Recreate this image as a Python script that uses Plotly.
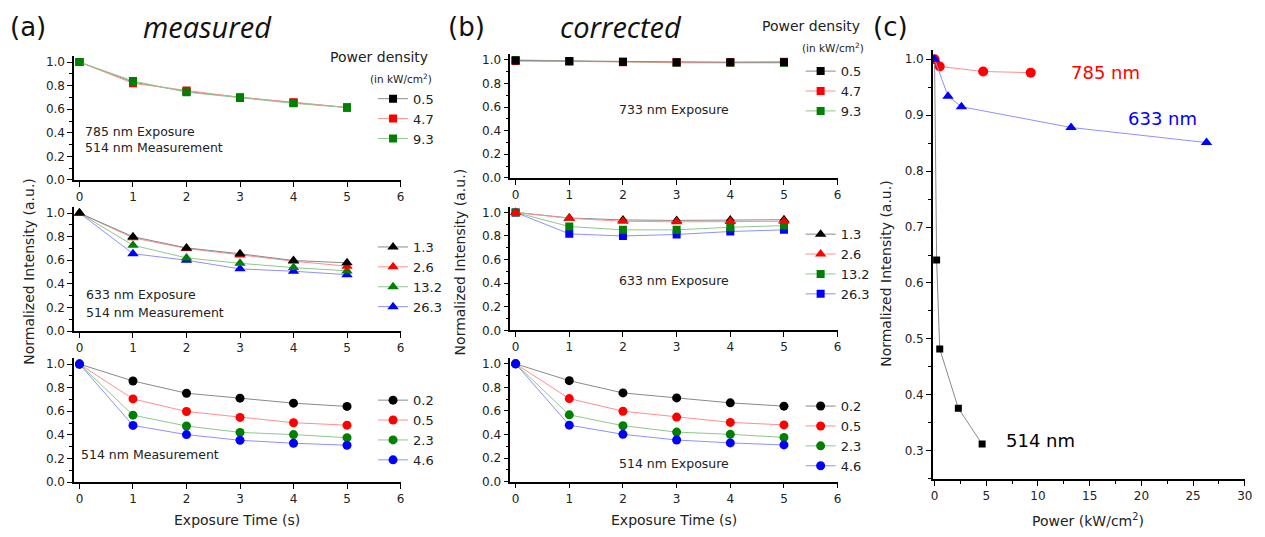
import plotly.graph_objects as go

W, H = 1265, 537

# ---------------- data ----------------
t = [0, 1, 2, 3, 4, 5]

# (a) measured, 785 nm exposure / 514 nm measurement
a1_labels = ["0.5", "4.7", "9.3"]
a1_k = [1.0, 0.83, 0.75, 0.70, 0.655, 0.615]
a1_r = [1.0, 0.82, 0.76, 0.70, 0.66, 0.615]
a1_g = [1.0, 0.84, 0.745, 0.695, 0.65, 0.615]

# (a) measured, 633 nm exposure / 514 nm measurement
a2_labels = ["1.3", "2.6", "13.2", "26.3"]
a2_k = [1.0, 0.80, 0.705, 0.655, 0.598, 0.578]
a2_r = [1.0, 0.79, 0.70, 0.644, 0.592, 0.55]
a2_g = [1.0, 0.728, 0.62, 0.574, 0.538, 0.51]
a2_b = [1.0, 0.656, 0.60, 0.527, 0.507, 0.478]

# 514 nm exposure (same in (a) and (b))
c514_labels = ["0.2", "0.5", "2.3", "4.6"]
c514_k = [1.0, 0.857, 0.753, 0.711, 0.669, 0.641]
c514_r = [1.0, 0.705, 0.598, 0.548, 0.503, 0.482]
c514_g = [1.0, 0.567, 0.475, 0.421, 0.402, 0.376]
c514_b = [1.0, 0.48, 0.402, 0.354, 0.329, 0.312]

# (b) corrected, 733 nm exposure
b1_labels = ["0.5", "4.7", "9.3"]
b1_k = [0.995, 0.99, 0.985, 0.98, 0.98, 0.98]
b1_r = [0.99, 0.985, 0.98, 0.98, 0.98, 0.985]
b1_g = [1.0, 0.99, 0.985, 0.975, 0.975, 0.975]

# (b) corrected, 633 nm exposure
b2_labels = ["1.3", "2.6", "13.2", "26.3"]
b2_k = [1.0, 0.953, 0.936, 0.932, 0.935, 0.938]
b2_r = [1.0, 0.95, 0.925, 0.92, 0.922, 0.925]
b2_g = [1.0, 0.88, 0.852, 0.852, 0.874, 0.888]
b2_b = [1.0, 0.818, 0.80, 0.813, 0.838, 0.852]

# (c) normalized intensity vs power
c_514_x = [0, 0.2, 0.5, 2.3, 4.6]
c_514_y = [1.0, 0.641, 0.482, 0.376, 0.312]
c_785_x = [0, 0.5, 4.7, 9.3]
c_785_y = [1.0, 0.987, 0.978, 0.976]
c_633_x = [0, 1.3, 2.6, 13.2, 26.3]
c_633_y = [1.0, 0.934, 0.915, 0.878, 0.851]

# ---------------- style ----------------
MK = {"k": "#000000", "r": "#ff0000", "g": "#008000", "b": "#0000ff"}
LN = {"k": "#8a8a8a", "r": "#ff8f8f", "g": "#8fc88f", "b": "#8f8fff"}
FONT = "DejaVu Sans, Arial, sans-serif"


def px(x):
    return x / W


def py(y):
    return 1 - y / H


fig = go.Figure()


def add(xs, ys, col, sym, size, name, xa, ya, legend, rank=None):
    fig.add_trace(go.Scatter(
        x=xs, y=ys, mode="lines+markers", name=name,
        line=dict(color=LN[col], width=1),
        marker=dict(color=MK[col], symbol=sym, size=size, line=dict(width=0)),
        xaxis=xa, yaxis=ya, legend=legend,
        legendrank=rank if rank is not None else 1000,
        showlegend=legend is not None,
        hoverinfo="skip",
    ))


# (a) top
add(t, a1_k, "k", "square", 8, a1_labels[0], "x", "y", "legend", 1)
add(t, a1_r, "r", "square", 8, a1_labels[1], "x", "y", "legend", 2)
add(t, a1_g, "g", "square", 8, a1_labels[2], "x", "y", "legend", 3)
# (a) middle
add(t, a2_b, "b", "triangle-up", 10, a2_labels[3], "x2", "y2", "legend2", 4)
add(t, a2_g, "g", "triangle-up", 10, a2_labels[2], "x2", "y2", "legend2", 3)
add(t, a2_r, "r", "triangle-up", 10, a2_labels[1], "x2", "y2", "legend2", 2)
add(t, a2_k, "k", "triangle-up", 10, a2_labels[0], "x2", "y2", "legend2", 1)
# (a) bottom
add(t, c514_k, "k", "circle", 9, c514_labels[0], "x3", "y3", "legend3", 1)
add(t, c514_r, "r", "circle", 9, c514_labels[1], "x3", "y3", "legend3", 2)
add(t, c514_g, "g", "circle", 9, c514_labels[2], "x3", "y3", "legend3", 3)
add(t, c514_b, "b", "circle", 9, c514_labels[3], "x3", "y3", "legend3", 4)
# (b) top
add(t, b1_g, "g", "square", 8, b1_labels[2], "x4", "y4", "legend4", 3)
add(t, b1_r, "r", "square", 8, b1_labels[1], "x4", "y4", "legend4", 2)
add(t, b1_k, "k", "square", 8, b1_labels[0], "x4", "y4", "legend4", 1)
# (b) middle
add(t, b2_b, "b", "square", 8, b2_labels[3], "x5", "y5", "legend5", 4)
add(t, b2_g, "g", "square", 8, b2_labels[2], "x5", "y5", "legend5", 3)
add(t, b2_k, "k", "triangle-up", 10, b2_labels[0], "x5", "y5", "legend5", 1)
add(t, b2_r, "r", "triangle-up", 10, b2_labels[1], "x5", "y5", "legend5", 2)
# (b) bottom
add(t, c514_k, "k", "circle", 9, c514_labels[0], "x6", "y6", "legend6", 1)
add(t, c514_r, "r", "circle", 9, c514_labels[1], "x6", "y6", "legend6", 2)
add(t, c514_g, "g", "circle", 9, c514_labels[2], "x6", "y6", "legend6", 3)
add(t, c514_b, "b", "circle", 9, c514_labels[3], "x6", "y6", "legend6", 4)
# (c)
add(c_514_x, c_514_y, "k", "square", 7, "514 nm", "x7", "y7", None)
add(c_785_x, c_785_y, "r", "circle", 10, "785 nm", "x7", "y7", None)
add(c_633_x, c_633_y, "b", "triangle-up", 10, "633 nm", "x7", "y7", None)

# ---------------- axes ----------------
axis_common = dict(
    showline=True, linecolor="#000", linewidth=1.5, mirror=False,
    showgrid=False, zeroline=False, ticks="outside", ticklen=5, tickwidth=1.2,
    tickcolor="#000", tickfont=dict(family=FONT, size=12, color="#222"),
)

a_x = (72.7, 401.7)
b_x = (512.3, 842.3)
a_rows = [181.7, 335.0, 488.3]
b_rows = [179.5, 334.3, 488.0]
yscale = 119.7  # px per 1.0

layout = {}
for i in range(6):
    xd = a_x if i < 3 else b_x
    y0 = (a_rows if i < 3 else b_rows)[i % 3]
    y1 = y0 - 1.05 * yscale
    n = i + 1
    xa = "xaxis" if n == 1 else f"xaxis{n}"
    ya = "yaxis" if n == 1 else f"yaxis{n}"
    layout[xa] = dict(axis_common, domain=[px(xd[0]), px(xd[1])],
                      range=[-0.1, 6], tickvals=[0, 1, 2, 3, 4, 5, 6],
                      anchor="y" if n == 1 else f"y{n}")
    layout[ya] = dict(axis_common, domain=[py(y0), py(y1)],
                      range=[0, 1.05], tickvals=[0, 0.2, 0.4, 0.6, 0.8, 1.0],
                      tickformat=".1f",
                      minor=dict(ticks="outside", ticklen=3, tickcolor="#000",
                                 dtick=0.1, tick0=0),
                      anchor="x" if n == 1 else f"x{n}")

layout["xaxis7"] = dict(axis_common, domain=[px(938.3), px(1252.7)],
                        range=[-0.163, 30], tickvals=[0, 5, 10, 15, 20, 25, 30],
                        minor=dict(ticks="outside", ticklen=3, tickcolor="#000",
                                   dtick=2.5, tick0=0),
                        anchor="y7")
layout["yaxis7"] = dict(axis_common, domain=[py(485), py(50)],
                        range=[0.25, 1.016],
                        tickvals=[0.3, 0.4, 0.5, 0.6, 0.7, 0.8, 0.9, 1.0],
                        tickformat=".1f",
                        minor=dict(ticks="outside", ticklen=3, tickcolor="#000",
                                   dtick=0.05, tick0=0),
                        anchor="x7")

# ---------------- legends ----------------
def leg(x, ytop):
    return dict(x=px(x), y=py(ytop), xanchor="left", yanchor="top",
                bgcolor="rgba(0,0,0,0)", borderwidth=0,
                font=dict(family=FONT, size=13, color="#222"),
                itemwidth=30, tracegroupgap=0)


layout["legend"] = leg(374, 84)
layout["legend2"] = leg(374, 234.5)
layout["legend3"] = leg(374, 390)
layout["legend4"] = leg(805, 56)
layout["legend5"] = leg(805, 221.5)
layout["legend6"] = leg(805, 396)

# ---------------- annotations ----------------
ann = []


def text(x, y, s, size=12.5, color="#222", xanchor="left", angle=0,
         family=FONT, style="normal"):
    ann.append(dict(x=px(x), y=py(y), xref="paper", yref="paper", text=s,
                    showarrow=False, xanchor=xanchor, yanchor="middle",
                    textangle=angle,
                    font=dict(family=family, size=size, color=color,
                              style=style)))


# panel labels / titles
text(6, 26, "(a)", size=26, color="#111")
text(207, 26, "measured", size=29, color="#111", xanchor="center",
     family="Open Sans, sans-serif", style="italic")
text(448, 26, "(b)", size=26, color="#111")
text(624, 26, "corrected", size=29, color="#111", xanchor="center",
     family="Open Sans, sans-serif", style="italic")
text(876, 26, "(c)", size=26, color="#111")

# power density headers
text(329, 57, "Power density", size=14)
text(369, 79, "(in kW/cm<sup>2</sup>)", size=10.5)
text(764, 25, "Power density", size=14)
text(804, 47, "(in kW/cm<sup>2</sup>)", size=10.5)

# in-plot labels
text(82, 132, "785 nm Exposure")
text(82, 149, "514 nm Measurement")
text(83, 298, "633 nm Exposure")
text(83, 316, "514 nm Measurement")
text(78, 460, "514 nm Measurement")
text(677, 110, "733 nm Exposure", xanchor="center")
text(677, 284, "633 nm Exposure", xanchor="center")
text(677, 469, "514 nm Exposure", xanchor="center")

text(1112, 73, "785 nm", size=18, color="#ff0000", xanchor="center")
text(1170, 119, "633 nm", size=18, color="#0000ff", xanchor="center")
text(1047, 446, "514 nm", size=18, color="#000000", xanchor="center")

# axis titles
text(27, 274, "Normalized Intensity (a.u.)", size=14, xanchor="center", angle=-90)
text(462, 265, "Normalized Intensity (a.u.)", size=14, xanchor="center", angle=-90)
text(891, 276, "Normalized Intensity (a.u.)", size=14, xanchor="center", angle=-90)
text(237, 527, "Exposure Time (s)", size=14, xanchor="center")
text(677, 527, "Exposure Time (s)", size=14, xanchor="center")
text(1095, 527, "Power (kW/cm<sup>2</sup>)", size=14, xanchor="center")

layout["annotations"] = ann
fig.update_layout(
    width=W, height=H, margin=dict(l=0, r=0, t=0, b=0),
    paper_bgcolor="white", plot_bgcolor="white", showlegend=True,
    font=dict(family=FONT), hovermode=False,
    **layout,
)

# remove the default page margin so the figure sits at the window's corner
fig.write_html(
    "out.html",
    config={"displayModeBar": False},
    post_script="document.body.style.margin='0px';document.body.style.overflow='hidden';",
)
